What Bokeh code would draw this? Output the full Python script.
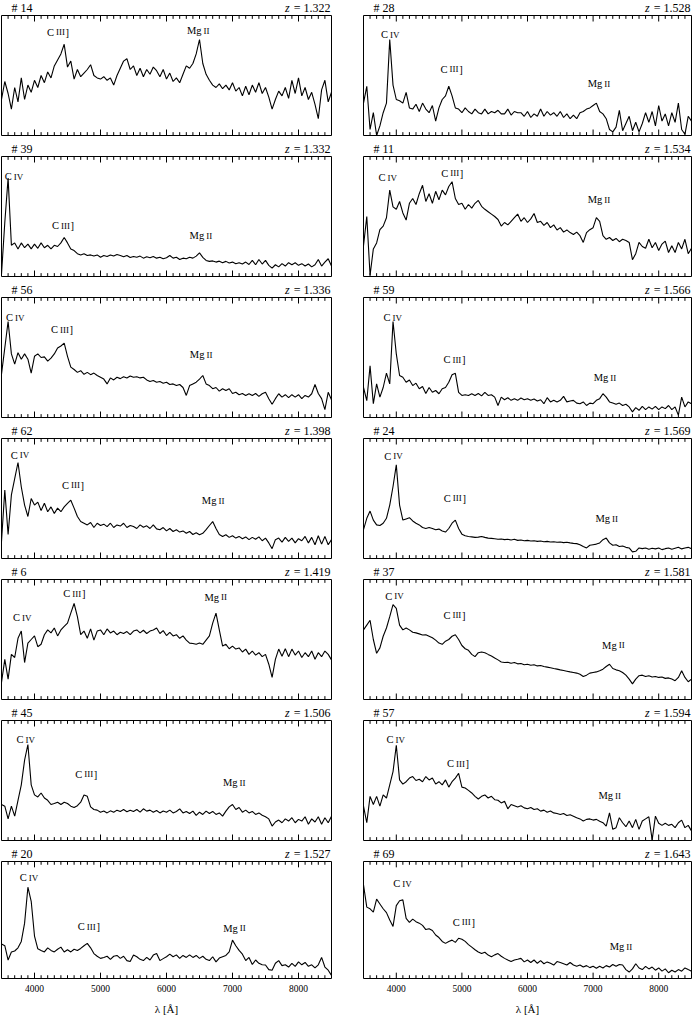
from bokeh.plotting import figure
from bokeh.models import Range1d, LinearAxis, SingleIntervalTicker
from bokeh.layouts import column, row
from bokeh.core.properties import value
from bokeh.embed import file_html
from bokeh.resources import INLINE

# ---------------- data ----------------
WAVE = list(range(3500, 8501, 50))  # wavelength grid [Angstrom]

FLUX_14 = [30,45,35,22,40,28,48,30,42,36, 46,40,50,44,53,48,58,63,68,76,
           57,62,47,55,49,52,55,59,50,48, 47,49,46,48,42,50,56,62,64,55,
           58,50,56,49,55,51,57,54,49,55, 47,52,45,48,44,51,58,56,60,68,
           80,60,51,46,42,40,43,39,42,38, 44,37,40,33,41,34,42,36,44,35,
           40,32,22,30,37,33,40,31,46,35, 48,33,40,30,36,26,14,38,46,28, 36]
FLUX_28 = [27,41,5,19,0,8,19,27,80,42, 30,29,27,36,23,22,26,20,27,22,
           19,25,12,23,30,33,41,33,23,22, 19,23,20,18,22,19,18,22,18,20,
           19,21,18,18,22,17,20,19,19,16, 20,15,18,16,22,16,20,17,19,16,
           20,15,18,14,17,14,19,20,22,23, 25,27,20,18,14,5,3,7,21,4,
           10,16,4,11,3,10,19,11,20,8, 25,12,18,8,19,11,27,5,1,16, 12]
FLUX_39 = [2,45,82,26,28,23,28,24,27,23, 27,23.5,28,24,26,23,26,25,28,32.5,
           28,23,21.6,19,18,19,17.5,18,17,18, 16,17.5,16.7,18,17,18.3,17.5,16.4,17.5,15.8,
           16.7,16,17,15.3,16.4,15.6,16.7,15.3,16,14.8, 15.6,17.5,15.3,16,14.2,15.3,14.8,16,15.3,17,
           19.7,16,13.4,12.6,13,12,12.8,11.5,12.6,11.2, 12,10.7,11.5,10.4,12,10,13.4,9.8,14.2,10.4,
           13.4,9.3,7,9.8,8,10.7,8.7,11.5,9.8,11.5, 9.3,10.7,8.7,10.4,8,9.8,14.2,8.7,12,14.8, 8.7]
FLUX_11 = [25.7,50,1,23,28,39,42,49,72,58, 56,62.5,53,47,61,65,60,69,76,62.5,
           69,61,71,64,72,68,75,79,65,60, 61,56,60,57,61,63.4,58.5,56,54,52,
           50,47.5,42,45,43,46,49,52,46,49, 45,48,52.5,45,46,42.6,45,40.7,43,38.8,
           40.7,37,38.8,36.6,35,37,34,28.4,36.6,39, 40.7,49,46,34,31,32.5,30,31.7,29,31,
           30,28.4,14,19,28.4,25,23.5,31,24,28.4, 21.6,27,29.5,20,25.7,20,28.4,23,31,19, 23.5]
FLUX_56 = [36,58,80,53,44.5,54,48.6,53,48.6,37, 51,53,50,50.5,47,49.5,53,58,59.6,62,
           51,42,40,37.6,39,36,37.6,35.7,37,35, 33.5,32,28,33,31.3,33.5,32.4,34,33,34.6,
           33.5,34,33,33.5,31.3,30,30.8,29.4,30,28.6, 29.4,27.5,28,26.6,27.5,25,18.4,26.6,28,29.4,
           32,35,28,26.6,24,25,22,24,22.5,24, 20,21,19,20,18.4,19.8,18.4,20,17.6,19.8,
           21,15.7,11,15.7,19.8,17,19,16.5,19,17, 19,15.7,18.4,17,19.8,27.5,20,15.7,6.6,21, 14.8]
FLUX_59 = [25,14,43,11.5,28,17,25,37,28,80, 53,35,33.5,29.4,31.3,26.6,28.6,24,25.8,20,
           25,21,22.5,19.8,24,25,29.4,35.7,36.8,21, 18.4,19,18.4,19.8,18.4,20,18,21,18.4,19,
           17,10,17,14.8,16.5,14.3,15.7,14.3,16.2,14.8, 15.7,14.3,15.4,13.7,14.8,11.5,16.5,13,14.3,13,
           14.3,17.6,13,13.7,14.3,12,11.5,13,10,12, 11.5,14.3,15.7,19.8,17,13,12,11,12,10,
           11,8.8,4.7,8.2,6,9.3,6.6,8.8,7,9.3, 6.6,8.8,7.4,10,6.6,8.8,2,17,8.8,13, 11.5]
FLUX_62 = [14.3,57,20,53,66.5,80,59.6,44.5,35,50, 44.5,47,40,46,39,43,37.6,42,39,43,
           46,48.6,42,35,30.8,29.4,28,30,25.8,29.4, 27.5,28.6,26.6,29.4,25.8,28,27,29.4,25.8,27.5,
           26.6,25,28,26,27.2,25,28,24.7,24,25.8, 23,25,22.5,24,22,23,21,22.5,20,21.4,
           19.8,21,24,27.5,30.8,25,20,18.4,19.8,17.6, 19,17,18.4,16.5,18,15.7,17.6,16,18,14.8,
           17,13,8.2,15.7,17,13.7,17.6,14.3,17,13, 16.5,14.8,18.4,13,17.6,11.5,19,12,18.4,11.5, 15.7]
FLUX_24 = [24,33.5,39.5,32,28,27.5,29.4,33.5,44.5,60, 78,44.5,32,33,34,31.3,29.4,28,25.8,25,
           25.8,25,24,24.5,23,22,25,29.4,32,25, 20.3,19,18.4,18,17.6,17.8,18.4,17.6,17,16.8,
           16.5,16,16.2,15.7,16,15.4,16,15.1,15.4,14.8, 15.1,14.6,14.8,14.3,14.6,14,14.3,13.7,14,13.5,
           13.7,13.2,13.5,13,12.6,12.4,11.5,10,8.8,11, 11.5,12,13,15.7,17,13,11,11.5,10,10.4,
           9.3,8.8,5.5,6,8.8,8.2,8.8,7.7,8.5,8, 8.8,7.4,8.2,8.8,7.7,8.5,9.3,8,8.8,9.3, 8.2]
FLUX_6 = [14.3,33.5,17,37.6,35,51,57,30.8,47,50, 53,44,46,54,58,55.5,59.6,53,58,61,
          63.7,72,80,69,54,57,51,58.8,49.5,57, 58,54,58.8,55.5,57,54,56,55,56.6,54,
          57,58,55.5,57.7,55,57,58,59.6,55,57.4, 53.3,56,53,54,51,53,49.5,47,46.7,46,
          47,46,49.5,53,63.7,72,58,44.5,46,42.3, 44.5,42,43,39.6,42,37.6,40.4,37,39,35.7,
          37.6,29.4,18.4,33.5,42,36,42.3,35.7,42,37, 40.4,35,39,35.7,40.4,33.5,39,35.7,40.4,37.6, 33]
FLUX_37 = [58,62,66,50,38.5,43,52.7,59.6,69,79, 76,62,58,59.6,58,56,55.5,54.7,53.8,54,
           52.7,51.4,49.5,47,46,48.6,50,52.7,54,50, 45,42.3,41,37.6,35.7,39,39.6,39,37.6,36.3,
           34.6,33,31.3,30.8,31,30.2,30.8,29.7,30,29, 29.4,28.6,29,28,28.3,27.5,27,26.4,25.8,25.3,
           24.7,24.2,23.6,23,22.5,22,21,19.2,20.3,22, 22.5,23,24,25.3,27.5,29.4,25.8,24.7,24,22.5,
           20.3,17,13,17,19.8,20.3,19.2,19.8,18.7,19.2, 18.4,18.7,17.6,18,17,15.7,18.4,24,18.4,14.8, 17]
FLUX_45 = [30,28.6,18,28.6,20.3,33.5,46.4,67,80,46.4, 38,36.3,39.6,35.4,33.5,30,30.8,31.9,30,31.9,
           30.8,28.6,27.5,29,31.9,38,36.8,28,25.8,25.3, 23.6,24.5,23,24.7,23.6,25.3,24.2,25.8,24,25.3,
           24.2,25.8,23.6,26.4,24.5,25.3,23.6,25,23,24.5, 23.6,25.3,23,24.2,26.4,23,24.2,22.5,24.5,21,
           23.6,21.7,24.5,22.5,24.2,21.7,23,20.3,24.5,28, 30,25.8,27.5,23.6,25.3,23,24.2,21.7,23,21,
           19.8,18,12,15.4,17,14.8,18,16.2,19,14.8, 17.6,16.2,19.8,13.5,18,15.4,19.8,13.5,19,14.8, 20.3]
FLUX_57 = [28.6,14.8,36.8,30,36.8,28.6,38,35.4,46.4,57.4, 79.4,50.5,47,49,52,53.3,50,51,49,53.3,
           50.5,52,47,49,46.4,50.5,44.5,49,52,56, 44.5,43.7,41.8,39.6,36.8,34.6,36.8,38,35.4,36.8,
           34,33.5,31.3,32.7,26.4,30,29,28,29,27.2, 26.4,27.5,25.8,26.4,24.5,25.3,23.6,24.5,23,22.5,
           21.7,22.5,20.9,21.4,20.3,19,18,16.2,17.6,18, 17,17.6,16,14.8,12,23,9.3,10.7,19,14.8,
           11.5,16.2,10.7,17.6,9.3,16.2,18,19.8,0.5,20.3, 14.3,12.6,14.3,12.6,13.5,10.7,14.8,17,10.7,12.6, 8]
FLUX_20 = [29.5,28,15.8,22.7,23.5,26.2,31.7,47.3,78,66, 36.3,25.4,24,22.7,26.2,24,22.7,25,26.8,22.7,
           24.6,22.7,25,24,25.7,28,30,26.2,21.3,19, 17.2,18,19,16.4,19,19.7,17.2,19,15.3,14.5,
           20,18.6,16.4,15.3,18,15.8,20,21.3,15.3,17, 18.6,20.8,18.6,20.2,17.2,19.7,18,20.2,18,19.7,
           17.2,19,16.4,15.3,18.6,14.2,17.5,18.6,19.7,22.7, 32.8,28,24,20.8,15.3,18,12,15.8,13,11.7,
           11.5,7.6,7.1,13,15.3,11,11.7,9.8,13,10.4, 14.2,11.7,13.7,10.4,11.7,9,11.7,18,9.8,7.1, 2.7]
FLUX_69 = [80,61,59.6,56.8,67.8,63.7,59.6,56.3,50,44.5, 62.3,66.4,67.2,51.4,48,50.8,48.6,47.3,45.4,41.8,
           42.6,41,37.2,35,31.7,30,31.7,32.8,30.9,34.4, 33.6,31.7,29,26.8,24.6,22.7,21.3,22.4,20,18.6,
           20.2,21.3,19,17.2,15.8,14.5,15.8,16.4,17.2,14.2, 15.8,13.7,15.8,13,15.3,12.6,14.2,13,11.5,14.5,
           13.7,12.6,11.5,13.7,11.5,10.4,11.5,9.8,11,9.3, 10.4,8.7,10.4,9,11,9.8,12,10.4,12,11.5,
           7.6,5.5,8.2,12.6,9,7.6,10.4,8.2,9.8,7.1, 9,6.3,8.2,4.9,7.1,5.5,7.6,6.3,9,7.6, 6.3]

# panel order: row by row, left then right
OBJECT_IDS = ["14", "28", "39", "11", "56", "59", "62", "24", "6", "37", "45", "57", "20", "69"]
REDSHIFTS = ["1.322", "1.528", "1.332", "1.534", "1.336", "1.566", "1.398",
             "1.569", "1.419", "1.581", "1.506", "1.594", "1.527", "1.643"]
FLUXES = [FLUX_14, FLUX_28, FLUX_39, FLUX_11, FLUX_56, FLUX_59, FLUX_62,
          FLUX_24, FLUX_6, FLUX_37, FLUX_45, FLUX_57, FLUX_20, FLUX_69]

# emission-line names: element symbol + small-caps ionisation stage (+ bracket)
LINE_PARTS = [[("C", "main"), ("IV", "small")],
              [("C", "main"), ("III", "small"), ("]", "main")],
              [("Mg", "main"), ("II", "small")]]
CIV_X = [None, 3909, 3691, 3869, 3707, 3944, 3781, 3958, 3815, 3971, 3868, 3991, 3918, 4096]
CIV_Y = [None, 85, 84, 83, 84, 84, 87, 86, 69, 87, 85, 85, 87, 82]
CIII_X = [4356, 4843, 4432, 4853, 4417, 4886, 4584, 4893, 4604, 4886, 4785, 4940, 4824, 5030]
CIII_Y = [87, 56, 43, 87, 74, 49, 62, 51, 89, 71, 56, 65, 45, 49]
MGII_X = [6481, 7091, 6521, 7091, 6525, 7181, 6706, 7208, 6746, 7309, 7027, 7255, 7030, 7424]
MGII_Y = [88, 44, 35, 65, 53, 34, 49, 34, 86, 46, 49, 38, 44, 28]

MAJOR_TICKS = [4000, 5000, 6000, 7000, 8000]
MINOR_TICKS = [w for w in range(3600, 8500, 100) if w % 1000 != 0]
X_LABEL = "λ [Å]"

FONT = "Liberation Serif"
SIZES = {"main": 10.5, "small": 9}
HEAD_SIZE = 12
X_START, X_END = 3500, 8500
Y_START, Y_END = 0, 100

# approximate advance widths (em) of the serif font, used to butt text pieces together
ADV = {"C": .667, "M": .889, "g": .5, "I": .333, "V": .722, "]": .333, " ": .25,
       "=": .564, ".": .25, "z": .389}


def text_width(s, size):
    return sum(ADV.get(ch, .5) for ch in s) * size


def make_cell(k):
    r, c = divmod(k, 2)
    last = (r == 6)
    if c == 0:
        bl, br, frame_w = 1, 16, 330
    else:
        bl, br, frame_w = 16, 1, 328
    frame_h = 120
    bt, bb = 1, (36 if last else 6)

    # header strip with object number and redshift
    h = figure(width=frame_w + bl + br, height=14,
               x_range=Range1d(X_START, X_END), y_range=Range1d(0, 1),
               x_axis_location=None, y_axis_location=None,
               output_backend="svg", toolbar_location=None,
               min_border_left=bl, min_border_right=br, min_border_top=0, min_border_bottom=0)
    h.grid.visible = False
    h.outline_line_color = None
    h.text(x=[X_START], y=[0.5], text=["# " + OBJECT_IDS[k]], x_offset=10,
           text_font=value(FONT), text_font_size=f"{HEAD_SIZE}px", text_color="black",
           text_align="left", text_baseline="middle")
    zrest = "= " + REDSHIFTS[k]
    h.text(x=[X_END], y=[0.5], text=[zrest], x_offset=-1,
           text_font=value(FONT), text_font_size=f"{HEAD_SIZE}px", text_color="black",
           text_align="right", text_baseline="middle")
    h.text(x=[X_END], y=[0.5], text=["z"], x_offset=-1 - text_width(zrest, HEAD_SIZE) - 4,
           text_font=value(FONT), text_font_size=f"{HEAD_SIZE}px", text_font_style="italic",
           text_color="black", text_align="right", text_baseline="middle")

    p = figure(width=frame_w + bl + br, height=frame_h + bt + bb,
               x_range=Range1d(X_START, X_END), y_range=Range1d(Y_START, Y_END),
               x_axis_location=None, y_axis_location=None,
               output_backend="svg", toolbar_location=None,
               min_border_left=bl, min_border_right=br,
               min_border_top=bt, min_border_bottom=bb)
    p.grid.visible = False
    p.outline_line_color = "black"
    p.outline_line_width = 1

    # inward ticks on top and bottom edges
    maj_len = 5.0   # in flux units (~6 px)
    min_len = 2.8
    p.segment(x0=MAJOR_TICKS, y0=[Y_START] * len(MAJOR_TICKS), x1=MAJOR_TICKS,
              y1=[Y_START + maj_len] * len(MAJOR_TICKS), line_color="black", line_width=1)
    p.segment(x0=MAJOR_TICKS, y0=[Y_END] * len(MAJOR_TICKS), x1=MAJOR_TICKS,
              y1=[Y_END - maj_len] * len(MAJOR_TICKS), line_color="black", line_width=1)
    p.segment(x0=MINOR_TICKS, y0=[Y_START] * len(MINOR_TICKS), x1=MINOR_TICKS,
              y1=[Y_START + min_len] * len(MINOR_TICKS), line_color="black", line_width=1)
    p.segment(x0=MINOR_TICKS, y0=[Y_END] * len(MINOR_TICKS), x1=MINOR_TICKS,
              y1=[Y_END - min_len] * len(MINOR_TICKS), line_color="black", line_width=1)

    if last:
        ax = LinearAxis(ticker=SingleIntervalTicker(interval=1000, num_minor_ticks=0))
        ax.axis_line_color = None
        ax.major_tick_in = 0
        ax.major_tick_out = 0
        ax.minor_tick_in = 0
        ax.minor_tick_out = 0
        ax.major_label_text_font = FONT
        ax.major_label_text_font_size = "9.5px"
        ax.major_label_text_color = "black"
        ax.major_label_standoff = 6
        ax.axis_label = X_LABEL
        ax.axis_label_text_font = FONT
        ax.axis_label_text_font_size = "11px"
        ax.axis_label_text_font_style = "normal"
        ax.axis_label_text_color = "black"
        ax.axis_label_standoff = 8
        p.add_layout(ax, "below")

    p.line(WAVE, FLUXES[k], line_color="black", line_width=1.1)

    for parts, xs, ys in zip(LINE_PARTS, (CIV_X, CIII_X, MGII_X), (CIV_Y, CIII_Y, MGII_Y)):
        if xs[k] is None:
            continue
        widths = [text_width(t, SIZES[s]) for t, s in parts]
        gaps = [2.0] + [0.6] * (len(parts) - 2)
        total = sum(widths) + sum(gaps)
        off = -total / 2
        for i, (t, s) in enumerate(parts):
            p.text(x=[xs[k]], y=[ys[k]], text=[t], x_offset=off, y_offset=1,
                   text_font=value(FONT), text_font_size=f"{SIZES[s]}px", text_color="black",
                   text_align="left", text_baseline="alphabetic")
            off += widths[i] + (gaps[i] if i < len(gaps) else 0)
    return column(h, p)


cells = [make_cell(k) for k in range(14)]
layout = column(*[row(cells[2 * r], cells[2 * r + 1]) for r in range(7)])

open("out.html", "w").write(file_html(layout, INLINE))
